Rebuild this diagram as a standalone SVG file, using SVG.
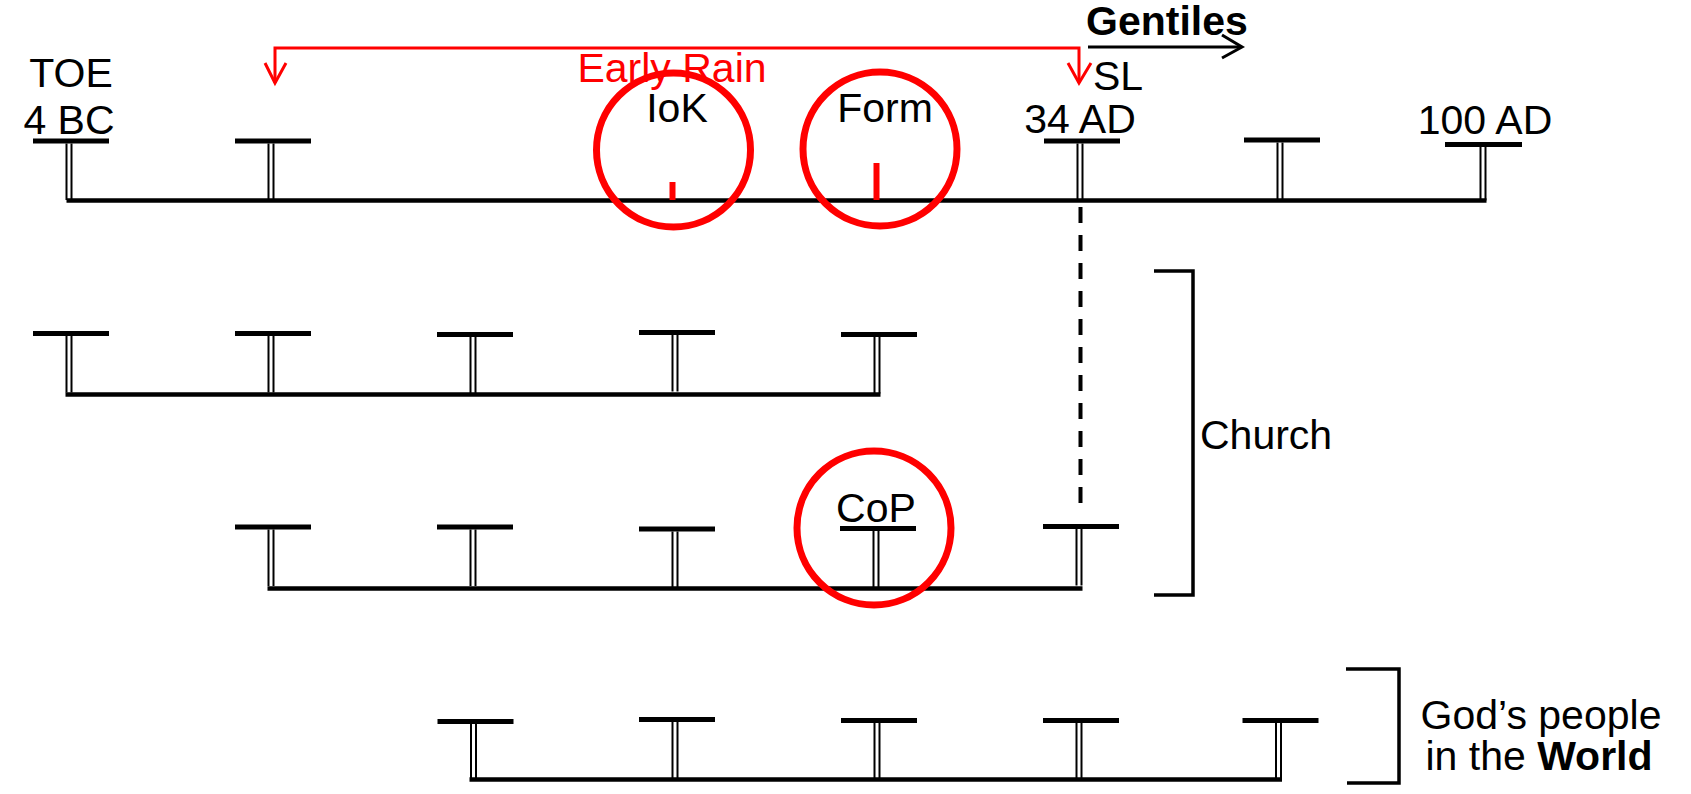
<svg xmlns="http://www.w3.org/2000/svg" width="1691" height="794" viewBox="0 0 1691 794">
<style>
.bar{stroke:#000;stroke-width:5;fill:none}
.main{stroke:#000;stroke-width:4.5;fill:none}
.stem{stroke:#000;stroke-width:2;fill:none}
.txt{font-family:"Liberation Sans",Arial,sans-serif;font-size:41px;fill:#000}
.red{stroke:#f00;fill:none}
.ring{stroke:#f00;stroke-width:7;fill:none}
.tick{stroke:#f00;stroke-width:6}
.brk{stroke:#000;stroke-width:3.5;fill:none}
</style>
<defs>
<g id="stemT">
<line class="bar" x1="-36" y1="0" x2="40" y2="0"/>
<line class="stem" x1="-2.5" y1="2.5" x2="-2.5" y2="59"/>
<line class="stem" x1="2.5" y1="2.5" x2="2.5" y2="59"/>
</g>
</defs>
<rect width="1691" height="794" fill="#fff"/>

<g id="row1">
<line class="main" x1="66.5" y1="200.5" x2="1486.5" y2="200.5"/>
<use href="#stemT" x="69" y="141"/>
<use href="#stemT" x="271" y="141"/>
<use href="#stemT" x="1080" y="141"/>
<use href="#stemT" x="1280" y="140"/>
<g transform="translate(1483,144.5)">
<line class="bar" x1="-38" y1="0" x2="39" y2="0"/>
<line class="stem" x1="-2.5" y1="2.5" x2="-2.5" y2="56"/>
<line class="stem" x1="2.5" y1="2.5" x2="2.5" y2="56"/>
</g>
<line class="tick" x1="672.5" y1="182" x2="672.5" y2="200"/>
<line class="tick" x1="876.5" y1="163" x2="876.5" y2="200"/>
</g>

<g id="row2">
<line class="main" x1="65.5" y1="394.5" x2="880.5" y2="394.5"/>
<use href="#stemT" x="69" y="333.5"/>
<use href="#stemT" x="271" y="333.5"/>
<use href="#stemT" x="473" y="334.5"/>
<use href="#stemT" x="675" y="332.5"/>
<use href="#stemT" x="877" y="334.5"/>
</g>

<g id="row3">
<line class="main" x1="267.5" y1="588.5" x2="1082.5" y2="588.5"/>
<use href="#stemT" x="271" y="527"/>
<use href="#stemT" x="473" y="527"/>
<use href="#stemT" x="675" y="529"/>
<use href="#stemT" x="876" y="528.5"/>
<use href="#stemT" x="1079" y="526.5"/>
</g>

<g id="row4">
<line class="main" x1="469.5" y1="779.5" x2="1282" y2="779.5"/>
<use href="#stemT" x="473.5" y="721.5"/>
<use href="#stemT" x="675" y="719.5"/>
<use href="#stemT" x="877" y="720.5"/>
<use href="#stemT" x="1079" y="720.5"/>
<use href="#stemT" x="1278.5" y="720.5"/>
</g>

<g id="circle-iok">
<circle class="ring" cx="673.5" cy="150" r="77"/>
<text class="txt" x="677" y="122" text-anchor="middle">IoK</text>
</g>
<g id="circle-form">
<circle class="ring" cx="880" cy="149" r="77"/>
<text class="txt" x="885" y="122" text-anchor="middle">Form</text>
</g>
<g id="circle-cop">
<circle class="ring" cx="874" cy="528" r="77"/>
<text class="txt" x="876" y="522" text-anchor="middle" font-size="36">CoP</text>
</g>

<g id="labels">
<text class="txt" x="71" y="87" text-anchor="middle">TOE</text>
<text class="txt" x="69" y="134" text-anchor="middle">4 BC</text>
<text class="txt" x="1080" y="133" text-anchor="middle">34 AD</text>
<text class="txt" x="1485" y="134" text-anchor="middle">100 AD</text>
<text class="txt" x="1093" y="90">SL</text>
<text class="txt" x="672" y="82" text-anchor="middle" font-size="34" style="fill:#f00">Early Rain</text>
<text class="txt" x="1086" y="35" font-size="34" font-weight="bold">Gentiles</text>
</g>

<g id="church">
<path class="brk" d="M1154 271 H1193 V595 H1154"/>
<text class="txt" x="1200" y="449">Church</text>
</g>

<g id="world">
<path class="brk" d="M1346 669 H1399 V783 H1347"/>
<text class="txt" x="1541" y="729" text-anchor="middle">God’s people</text>
<text class="txt" x="1539" y="770" text-anchor="middle">in the <tspan font-weight="bold">World</tspan></text>
</g>

<g id="connectors">
<path class="red" stroke-width="3" d="M275 83 V48 H1079 V83"/>
<path class="red" stroke-width="3" d="M265 63 L275 83 L286 63"/>
<path class="red" stroke-width="3" d="M1068 63 L1079 83 L1091 63"/>
<line x1="1088" y1="47" x2="1241" y2="47" stroke="#000" stroke-width="3"/>
<path d="M1222 35 L1242 47 L1222 58" stroke="#000" stroke-width="3" fill="none"/>
<line x1="1080.5" y1="207" x2="1080.5" y2="505" stroke="#000" stroke-width="4" stroke-dasharray="16 12"/>
</g>
</svg>
